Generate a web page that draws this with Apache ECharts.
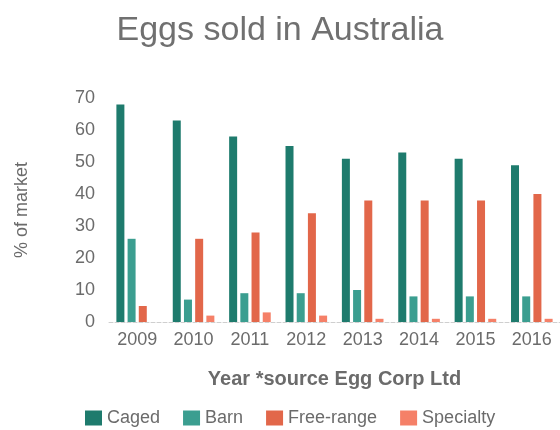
<!DOCTYPE html>
<html>
<head>
<meta charset="utf-8">
<script src="https://cdn.jsdelivr.net/npm/echarts@6/dist/echarts.min.js"></script>
<style>
  html, body { margin: 0; padding: 0; background: #fff; }
  #chart { width: 560px; height: 430px; }
</style>
</head>
<body>
<div id="chart"></div>
<script>
// 数据
const years = ['2009', '2010', '2011', '2012', '2013', '2014', '2015', '2016'];
const caged = [68, 63, 58, 55, 51, 53, 51, 49];
const barn = [26, 7, 9, 9, 10, 8, 8, 8];
const freeRange = [5, 26, 28, 34, 38, 38, 38, 40];
const specialty = [0, 2, 3, 2, 1, 1, 1, 1];
const yTicks = [0, 10, 20, 30, 40, 50, 60, 70];

const textColor = '#6b6b6b';

function bar(name, data) {
  return {
    name: name,
    type: 'bar',
    data: data,
    barWidth: 8,
    barGap: '40%'
  };
}

let myChart = echarts.init(document.getElementById('chart'));
let option = {
  animation: false,
  color: ['#1e7b6d', '#3b9e90', '#e2674a', '#f58068'],
  title: {
    text: 'Eggs sold in Australia',
    left: 'center',
    top: 9,
    textStyle: {
      color: '#707070',
      fontSize: 34,
      fontWeight: 'normal',
      fontFamily: 'Liberation Sans'
    }
  },
  grid: {
    left: 109,
    width: 453,
    top: 98,
    bottom: 108
  },
  legend: {
    bottom: -2,
    left: 80,
    itemWidth: 17,
    itemHeight: 15,
    itemGap: 23,
    icon: 'rect',
    textStyle: {
      color: textColor,
      fontSize: 18,
      fontFamily: 'Liberation Sans'
    }
  },
  xAxis: {
    type: 'category',
    data: years,
    name: 'Year *source Egg Corp Ltd',
    nameLocation: 'middle',
    nameGap: 47,
    nameTextStyle: {
      color: textColor,
      fontSize: 20,
      fontWeight: 'bold',
      fontFamily: 'Liberation Sans'
    },
    axisTick: { show: false },
    axisLine: {
      lineStyle: { color: '#cfcfcf', type: 'dashed', width: 1 }
    },
    axisLabel: {
      color: textColor,
      fontSize: 18,
      margin: 9,
      fontFamily: 'Liberation Sans'
    }
  },
  yAxis: {
    type: 'value',
    min: 0,
    max: 70,
    interval: 10,
    name: '% of market',
    nameLocation: 'middle',
    nameGap: 78,
    nameTextStyle: {
      color: textColor,
      fontSize: 18,
      fontFamily: 'Liberation Sans'
    },
    splitLine: { show: false },
    axisLine: { show: false },
    axisTick: { show: false },
    axisLabel: {
      color: textColor,
      fontSize: 18,
      margin: 14,
      fontFamily: 'Liberation Sans',
      formatter: v => yTicks.includes(v) ? String(v) : ''
    }
  },
  series: [
    bar('Caged', caged),
    bar('Barn', barn),
    bar('Free-range', freeRange),
    bar('Specialty', specialty)
  ]
};
myChart.setOption(option);
</script>
</body>
</html>
